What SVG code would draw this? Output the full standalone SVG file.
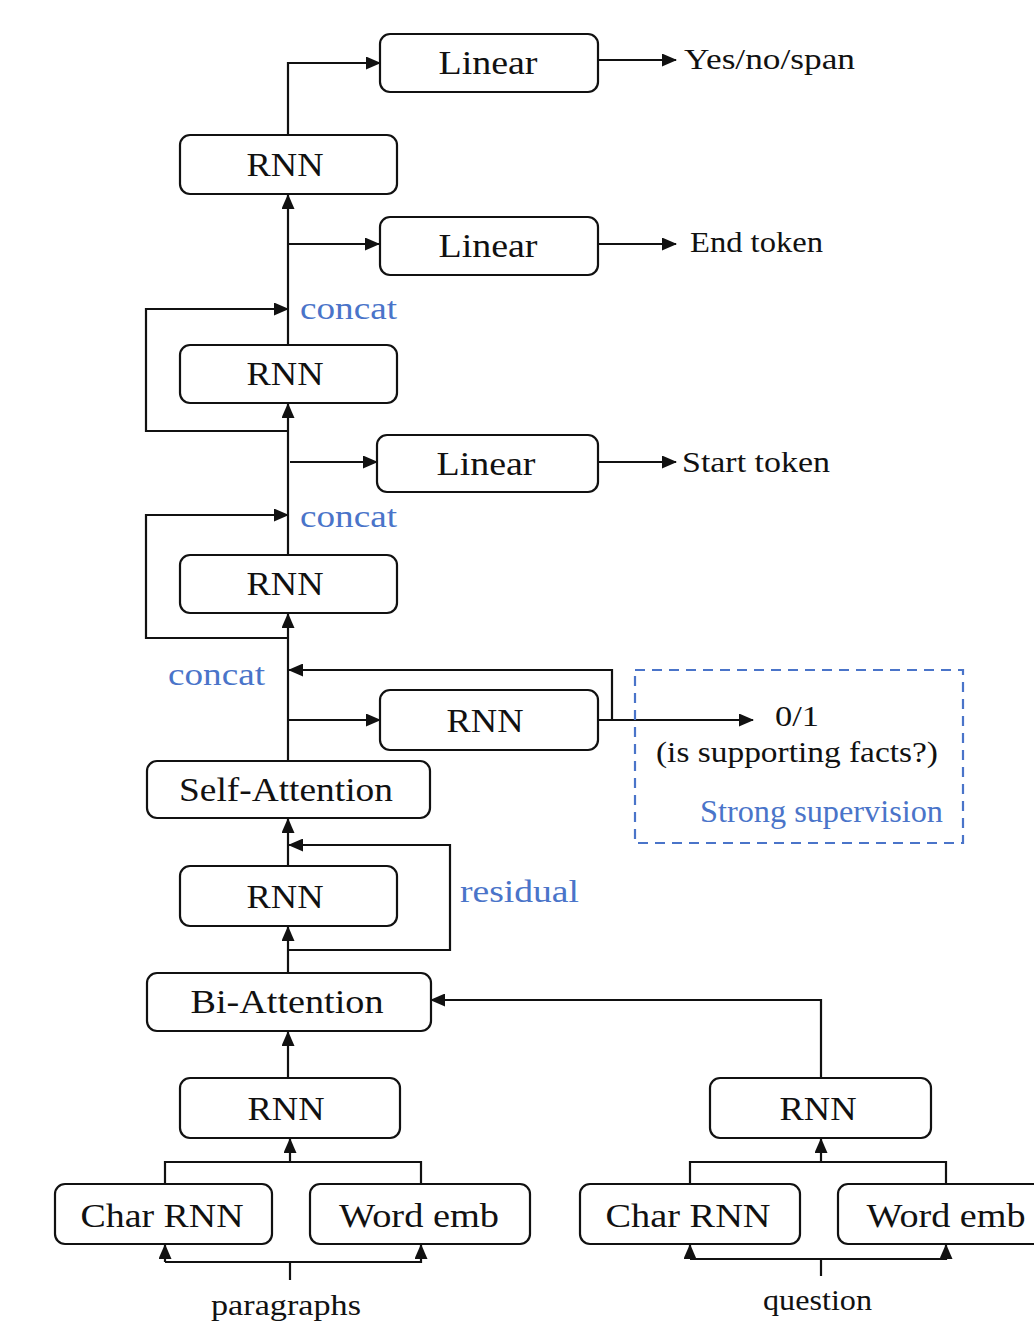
<svg xmlns="http://www.w3.org/2000/svg" width="1034" height="1329" viewBox="0 0 1034 1329">
  <defs>
    <marker id="arrow" markerUnits="userSpaceOnUse" markerWidth="15" markerHeight="13" refX="14" refY="6.5" orient="auto">
      <path d="M0,0 L15,6.5 L0,13 z" fill="#111"/>
    </marker>
    <style>
      .box { fill: #fff; stroke: #111; stroke-width: 2.2; }
      .lbl { font-family: "Liberation Serif", "Times New Roman", serif; font-size: 34px; fill: #111; text-anchor: middle; }
      .out { font-family: "Liberation Serif", "Times New Roman", serif; font-size: 29px; fill: #111; }
      .note { font-family: "Liberation Serif", "Times New Roman", serif; font-size: 31px; fill: #4a74c9; }
      .wire { fill: none; stroke: #111; stroke-width: 2.2; }
      .arr { marker-end: url(#arrow); }
      .dash { fill: none; stroke: #4a74c9; stroke-width: 2.2; stroke-dasharray: 10 7; }
    </style>
  </defs>

  <rect width="1034" height="1329" fill="#fff"/>

  <!-- connectors -->
  <g id="connectors">
    <!-- top RNN to yes/no/span head -->
    <path class="wire arr" d="M288,135 V63 H380"/>
    <path class="wire arr" d="M598,60 H676"/>
    <!-- spine into top RNN, branch to end-token head -->
    <path class="wire arr" d="M288,345 V195"/>
    <path class="wire arr" d="M288,244 H379"/>
    <path class="wire arr" d="M598,244 H676"/>
    <!-- concat skip around second RNN -->
    <path class="wire arr" d="M288,431 H146 V309 H288"/>
    <!-- spine into second RNN, branch to start-token head -->
    <path class="wire arr" d="M288,555 V404"/>
    <path class="wire arr" d="M290,462 H377"/>
    <path class="wire arr" d="M598,462 H676"/>
    <!-- concat skip around third RNN -->
    <path class="wire arr" d="M288,638 H146 V515 H288"/>
    <!-- self-attention into third RNN -->
    <path class="wire arr" d="M288,761 V614"/>
    <!-- supporting-facts branch -->
    <path class="wire arr" d="M288,720 H380"/>
    <path class="wire arr" d="M598,720 H753"/>
    <path class="wire arr" d="M612,720 V670 H289"/>
    <!-- residual block -->
    <path class="wire arr" d="M288,866 V819"/>
    <path class="wire arr" d="M288,973 V927"/>
    <path class="wire arr" d="M288,950 H450 V845 H289"/>
    <!-- paragraph encoder into bi-attention -->
    <path class="wire arr" d="M288,1078 V1032"/>
    <!-- question encoder into bi-attention -->
    <path class="wire arr" d="M821,1078 V1000 H431"/>
    <!-- paragraph embeddings -->
    <path class="wire" d="M165,1184 V1162 H421 V1184"/>
    <path class="wire arr" d="M290,1162 V1139"/>
    <path class="wire" d="M290,1280 V1262"/>
    <path class="wire arr" d="M165,1262 V1245"/>
    <path class="wire arr" d="M165,1262 H421 V1245"/>
    <!-- question embeddings -->
    <path class="wire" d="M690,1184 V1162 H946 V1184"/>
    <path class="wire arr" d="M821,1162 V1139"/>
    <path class="wire" d="M821,1276 V1259"/>
    <path class="wire arr" d="M690,1259 V1245"/>
    <path class="wire arr" d="M690,1259 H946 V1245"/>
  </g>

  <!-- nodes -->
  <g id="linear-span">
    <rect class="box" x="380" y="34" width="218" height="58" rx="10"/>
    <text class="lbl" x="488" y="74" textLength="99" lengthAdjust="spacingAndGlyphs">Linear</text>
  </g>
  <g id="rnn-4">
    <rect class="box" x="180" y="135" width="217" height="59" rx="10"/>
    <text class="lbl" x="285" y="176" textLength="77" lengthAdjust="spacingAndGlyphs">RNN</text>
  </g>
  <g id="linear-end">
    <rect class="box" x="380" y="217" width="218" height="58" rx="10"/>
    <text class="lbl" x="488" y="257" textLength="99" lengthAdjust="spacingAndGlyphs">Linear</text>
  </g>
  <g id="rnn-3">
    <rect class="box" x="180" y="345" width="217" height="58" rx="10"/>
    <text class="lbl" x="285" y="385" textLength="77" lengthAdjust="spacingAndGlyphs">RNN</text>
  </g>
  <g id="linear-start">
    <rect class="box" x="377" y="435" width="221" height="57" rx="10"/>
    <text class="lbl" x="486" y="475" textLength="99" lengthAdjust="spacingAndGlyphs">Linear</text>
  </g>
  <g id="rnn-2">
    <rect class="box" x="180" y="555" width="217" height="58" rx="10"/>
    <text class="lbl" x="285" y="595" textLength="77" lengthAdjust="spacingAndGlyphs">RNN</text>
  </g>
  <g id="rnn-support">
    <rect class="box" x="380" y="690" width="218" height="60" rx="10"/>
    <text class="lbl" x="485" y="732" textLength="77" lengthAdjust="spacingAndGlyphs">RNN</text>
  </g>
  <g id="self-attention">
    <rect class="box" x="147" y="761" width="283" height="57" rx="10"/>
    <text class="lbl" x="286" y="801" textLength="214" lengthAdjust="spacingAndGlyphs">Self-Attention</text>
  </g>
  <g id="rnn-1">
    <rect class="box" x="180" y="866" width="217" height="60" rx="10"/>
    <text class="lbl" x="285" y="908" textLength="77" lengthAdjust="spacingAndGlyphs">RNN</text>
  </g>
  <g id="bi-attention">
    <rect class="box" x="147" y="973" width="284" height="58" rx="10"/>
    <text class="lbl" x="287" y="1013" textLength="193" lengthAdjust="spacingAndGlyphs">Bi-Attention</text>
  </g>
  <g id="rnn-paragraph">
    <rect class="box" x="180" y="1078" width="220" height="60" rx="10"/>
    <text class="lbl" x="286" y="1120" textLength="77" lengthAdjust="spacingAndGlyphs">RNN</text>
  </g>
  <g id="rnn-question">
    <rect class="box" x="710" y="1078" width="221" height="60" rx="10"/>
    <text class="lbl" x="818" y="1120" textLength="77" lengthAdjust="spacingAndGlyphs">RNN</text>
  </g>
  <g id="char-rnn-paragraph">
    <rect class="box" x="55" y="1184" width="217" height="60" rx="10"/>
    <text class="lbl" x="162" y="1227" textLength="163" lengthAdjust="spacingAndGlyphs">Char RNN</text>
  </g>
  <g id="word-emb-paragraph">
    <rect class="box" x="310" y="1184" width="220" height="60" rx="10"/>
    <text class="lbl" x="419" y="1227" textLength="160" lengthAdjust="spacingAndGlyphs">Word emb</text>
  </g>
  <g id="char-rnn-question">
    <rect class="box" x="580" y="1184" width="220" height="60" rx="10"/>
    <text class="lbl" x="688" y="1227" textLength="165" lengthAdjust="spacingAndGlyphs">Char RNN</text>
  </g>
  <g id="word-emb-question">
    <rect class="box" x="838" y="1184" width="222" height="60" rx="10"/>
    <text class="lbl" x="946" y="1227" textLength="159" lengthAdjust="spacingAndGlyphs">Word emb</text>
  </g>

  <!-- outputs and inputs -->
  <g id="outputs">
    <text class="out" x="684" y="69" textLength="171" lengthAdjust="spacingAndGlyphs">Yes/no/span</text>
    <text class="out" x="690" y="252" textLength="133" lengthAdjust="spacingAndGlyphs">End token</text>
    <text class="out" x="682" y="472" textLength="148" lengthAdjust="spacingAndGlyphs">Start token</text>
    <text class="out" x="775" y="726" textLength="44" lengthAdjust="spacingAndGlyphs">0/1</text>
    <text class="out" x="656" y="762" textLength="282" lengthAdjust="spacingAndGlyphs">(is supporting facts?)</text>
    <text class="out" x="211" y="1315" textLength="150" lengthAdjust="spacingAndGlyphs">paragraphs</text>
    <text class="out" x="763" y="1310" textLength="109" lengthAdjust="spacingAndGlyphs">question</text>
  </g>

  <!-- annotations -->
  <g id="annotations">
    <text class="note" x="300" y="319" textLength="97" lengthAdjust="spacingAndGlyphs">concat</text>
    <text class="note" x="300" y="527" textLength="97" lengthAdjust="spacingAndGlyphs">concat</text>
    <text class="note" x="168" y="685" textLength="97" lengthAdjust="spacingAndGlyphs">concat</text>
    <text class="note" x="460" y="902" textLength="119" lengthAdjust="spacingAndGlyphs">residual</text>
    <rect class="dash" x="635" y="670" width="328" height="173"/>
    <text class="note" x="700" y="822" font-size="29" textLength="243" lengthAdjust="spacingAndGlyphs">Strong supervision</text>
  </g>
</svg>
